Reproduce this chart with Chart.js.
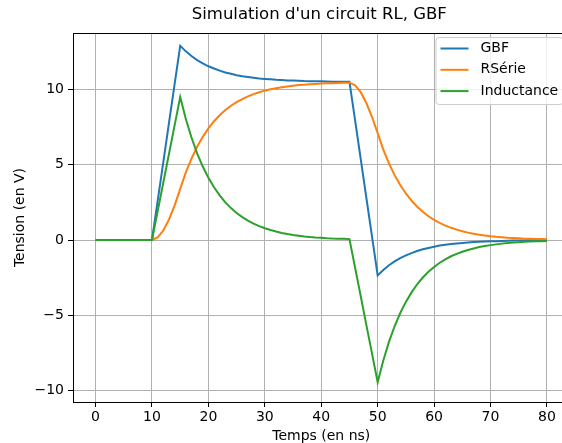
<!DOCTYPE html>
<html>
<head>
<meta charset="utf-8">
<script src="https://cdn.jsdelivr.net/npm/chart.js@4"></script>
<style>
html, body { margin: 0; padding: 0; overflow: hidden; background: #fff; }
canvas { display: block; }
</style>
</head>
<body>
<canvas id="chart" width="600" height="443"></canvas>
<script>
// time axis (ns) and the three voltages (V)
const times = [0,1,2,3,4,5,6,7,8,9,10,11,12,13,14,15,16,17,18,19,20,21,22,23,24,25,26,27,28,29,30,
  31,32,33,34,35,36,37,38,39,40,41,42,43,44,45,46,47,48,49,50,51,52,53,54,55,56,57,58,59,60,
  61,62,63,64,65,66,67,68,69,70,71,72,73,74,75,76,77,78,79,80];

const gbf = [0,0,0,0,0,0,0,0,0,0,0, 2.58,5.16,7.74,10.32,12.90,
  12.53,12.22,11.95,11.73,11.54,11.39,11.25,11.13,11.04,10.95,10.88,10.83,10.78,10.73,10.70,
  10.67,10.64,10.62,10.60,10.59,10.58,10.56,10.55,10.54,10.54,10.53,10.52,10.52,10.52,10.51,
  7.94,5.37,2.79,0.22,-2.35,
  -1.99,-1.68,-1.42,-1.20,-1.02,-0.87,-0.73,-0.62,-0.53,-0.45,-0.37,-0.32,-0.27,-0.23,-0.20,
  -0.17,-0.14,-0.12,-0.10,-0.09,-0.08,-0.06,-0.05,-0.04,-0.04,-0.03,-0.02,-0.02,-0.02,-0.01];

const rserie = [0,0,0,0,0,0,0,0,0,0,0, 0.17,0.63,1.35,2.28,3.40,
  4.49,5.41,6.19,6.85,7.41,7.89,8.29,8.63,8.92,9.16,9.36,9.54,9.69,9.81,9.92,
  10.01,10.08,10.15,10.20,10.25,10.29,10.32,10.35,10.37,10.39,10.41,10.42,10.43,10.44,10.45,
  10.28,9.82,9.10,8.17,7.10,
  6.01,5.09,4.31,3.65,3.09,2.61,2.21,1.87,1.58,1.34,1.14,0.96,0.81,0.69,0.58,
  0.49,0.42,0.35,0.30,0.25,0.21,0.18,0.15,0.13,0.11,0.09,0.08,0.07,0.06,0.05];

const inductance = [0,0,0,0,0,0,0,0,0,0,0, 1.90,3.80,5.70,7.60,9.50,
  8.04,6.81,5.76,4.88,4.13,3.50,2.96,2.50,2.12,1.79,1.52,1.29,1.09,0.92,0.78,
  0.66,0.56,0.47,0.40,0.34,0.29,0.24,0.20,0.17,0.15,0.12,0.10,0.09,0.08,0.06,
  -1.84,-3.74,-5.65,-7.55,-9.45,
  -8.00,-6.77,-5.73,-4.85,-4.11,-3.48,-2.94,-2.49,-2.11,-1.79,-1.51,-1.28,-1.08,-0.92,-0.78,
  -0.66,-0.56,-0.47,-0.40,-0.34,-0.29,-0.24,-0.20,-0.17,-0.15,-0.12,-0.10,-0.09,-0.08,-0.06];

const seriesNames = ["GBF", "RSérie", "Inductance"];
const xTicks = [0, 10, 20, 30, 40, 50, 60, 70, 80];
const yTicks = [-10, -5, 0, 5, 10];
const title = "Simulation d'un circuit RL, GBF";

Chart.defaults.font.family = "'DejaVu Sans', sans-serif";
Chart.defaults.color = "#000";

function points(values) {
    return times.map((t, i) => ({ x: t, y: values[i] }));
}

// top spine + title
const frame = {
    id: "frame",
    afterDatasetsDraw(chart) {
        const { ctx, chartArea: a } = chart;
        ctx.save();
        ctx.strokeStyle = "#000";
        ctx.lineWidth = 1;
        ctx.beginPath();
        ctx.moveTo(a.left, a.top + 0.5);
        ctx.lineTo(a.right, a.top + 0.5);
        ctx.stroke();
        ctx.restore();
    },
    afterDraw(chart) {
        const { ctx, chartArea: a } = chart;
        ctx.save();
        ctx.fillStyle = "#000";
        ctx.font = "16.5px 'DejaVu Sans'";
        ctx.textAlign = "center";
        ctx.textBaseline = "middle";
        ctx.fillText(title, (a.left + a.right) / 2 - 2, 15);
        ctx.restore();
    }
};

// matplotlib-like legend in the upper right corner
const mplLegend = {
    id: "mplLegend",
    afterDraw(chart) {
        const { ctx, chartArea: a } = chart;
        const w = 127, h = 67;
        const left = a.right - 7 - w, top = a.top + 4;
        ctx.save();
        ctx.beginPath();
        ctx.roundRect(left + 0.5, top + 0.5, w, h, 3);
        ctx.fillStyle = "rgba(255,255,255,0.8)";
        ctx.fill();
        ctx.strokeStyle = "#cccccc";
        ctx.lineWidth = 1;
        ctx.stroke();
        ctx.font = "14px 'DejaVu Sans'";
        ctx.textBaseline = "middle";
        chart.data.datasets.forEach((ds, i) => {
            const y = top + 11.5 + i * 21.3;
            ctx.strokeStyle = ds.borderColor;
            ctx.lineWidth = 2;
            ctx.beginPath();
            ctx.moveTo(left + 5, y);
            ctx.lineTo(left + 33, y);
            ctx.stroke();
            ctx.fillStyle = "#000";
            ctx.fillText(ds.label, left + 45, y);
        });
        ctx.restore();
    }
};

const gridStyle = { color: "#b0b0b0", lineWidth: 1, tickColor: "#000", tickLength: 5 };

new Chart(document.getElementById("chart"), {
    type: "line",
    data: {
        datasets: [
            { label: seriesNames[0], data: points(gbf), borderColor: "#1f77b4", order: 2 },
            { label: seriesNames[1], data: points(rserie), borderColor: "#ff7f0e", order: 1 },
            { label: seriesNames[2], data: points(inductance), borderColor: "#2ca02c", order: 0 }
        ]
    },
    options: {
        responsive: false,
        animation: false,
        devicePixelRatio: 1,
        layout: { padding: { top: 33, right: 30.5, left: 0, bottom: 0 } },
        elements: {
            line: { borderWidth: 2, tension: 0, fill: false },
            point: { radius: 0, hoverRadius: 0 }
        },
        plugins: {
            legend: { display: false },
            title: { display: false },
            tooltip: { enabled: false }
        },
        scales: {
            x: {
                type: "linear",
                min: -4,
                max: 84,
                afterBuildTicks: scale => { scale.ticks = xTicks.map(v => ({ value: v })); },
                afterFit: scale => { scale.height = 41; scale.paddingLeft = 0; scale.paddingRight = 0; },
                grid: gridStyle,
                border: { color: "#000", width: 1 },
                ticks: { font: { size: 14 }, padding: 2, maxRotation: 0, autoSkip: false },
                title: { display: true, text: "Temps (en ns)", font: { size: 14, lineHeight: 1 }, padding: 0 }
            },
            y: {
                min: -10.76,
                max: 13.75,
                afterBuildTicks: scale => { scale.ticks = yTicks.map(v => ({ value: v })); },
                afterFit: scale => { scale.width = 73; scale.paddingTop = 0; scale.paddingBottom = 0; },
                grid: gridStyle,
                border: { color: "#000", width: 1 },
                ticks: {
                    font: { size: 14 },
                    padding: 4,
                    callback: v => String(v).replace("-", "\u2212")
                },
                title: { display: true, text: "Tension (en V)", font: { size: 14, lineHeight: 1.2 }, padding: { top: 11.6, bottom: 0 } }
            }
        }
    },
    plugins: [frame, mplLegend]
});
</script>
</body>
</html>
